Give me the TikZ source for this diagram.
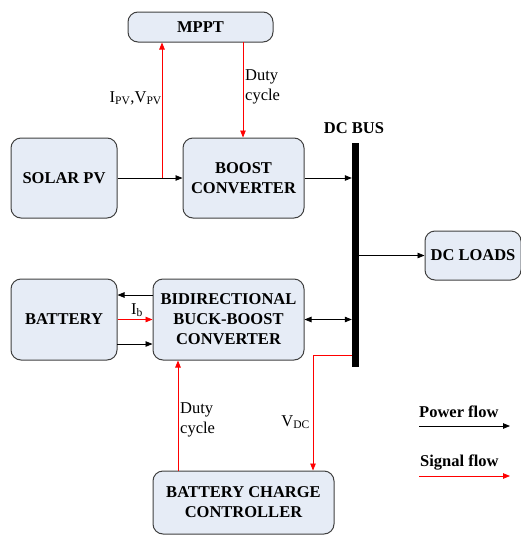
\documentclass[tikz,border=0pt]{standalone}
\usepackage{fontspec}
\setmainfont{LiberationSerif}[Extension=.ttf,UprightFont=*-Regular,BoldFont=*-Bold,ItalicFont=*-Italic,BoldItalicFont=*-BoldItalic]
\usetikzlibrary{arrows.meta}
\definecolor{boxfill}{HTML}{E6ECF6}
\definecolor{boxline}{HTML}{404040}
\definecolor{sigred}{HTML}{FF0000}
\begin{document}
\begin{tikzpicture}[x=1pt,y=-1pt,
  blk/.style={draw=boxline,line width=1pt,fill=boxfill,rounded corners=10pt,
     inner sep=0pt,align=center,font=\fontsize{16.5}{20}\selectfont\bfseries},
  pw/.style={draw=black,line width=0.8pt,-{Triangle[length=7pt,width=5.5pt]}},
  pwb/.style={draw=black,line width=0.8pt,{Triangle[length=7pt,width=5.5pt]}-{Triangle[length=7pt,width=5.5pt]}},
  sig/.style={draw=sigred,line width=0.8pt,-{Triangle[length=7pt,width=5.5pt]}},
  sigl/.style={draw=sigred,line width=0.8pt},
  lbl/.style={font=\fontsize{16.5}{20}\selectfont,inner sep=0pt,align=left},
  blbl/.style={font=\fontsize{16.5}{18}\selectfont\bfseries,inner sep=0pt}]
\useasboundingbox (0,0) rectangle (521,536);
% blocks
\node[blk,minimum width=145pt,minimum height=30pt] (mppt) at (200.5,27) {MPPT};
\node[blk,minimum width=106pt,minimum height=80pt] (solar) at (64,178) {SOLAR PV};
\node[blk,minimum width=121pt,minimum height=80pt] (boost) at (243.5,178) {BOOST\\CONVERTER};
\node[fill=black,inner sep=0pt,minimum width=7pt,minimum height=224pt] (bus) at (355.5,255) {};
\node[blk,minimum width=96pt,minimum height=49pt] (loads) at (473,255.5) {DC LOADS};
\node[blk,minimum width=106pt,minimum height=81pt] (batt) at (64,319.5) {BATTERY};
\node[blk,minimum width=151pt,minimum height=81pt] (bidir) at (228.5,319.5) {BIDIRECTIONAL\\BUCK-BOOST\\CONVERTER};
\node[blk,minimum width=181pt,minimum height=63pt] (ctrl) at (243.5,502.5) {BATTERY CHARGE\\CONTROLLER};
\node[blbl] (buslbl) at (354,128) {DC BUS};
% power flows
\draw[pw] (solar.east) -- (boost.west);
\draw[pw] (boost.east) -- (boost.east -| bus.west);
\draw[pw] (bus.east |- loads.west) -- (loads.west);
\coordinate (b1) at (153,295);
\coordinate (b3) at (117,344);
\draw[pw] (b1) -- (b1 -| batt.east);
\draw[pw] (b3) -- (b3 -| bidir.west);
\draw[pwb] (bidir.east) -- (bidir.east -| bus.west);
% signal flows
\coordinate (j1) at (162,178);
\draw[sig] (j1) -- (j1 |- mppt.south);
\coordinate (d1) at (243,42);
\draw[sig] (d1) -- (d1 |- boost.north);
\draw[sig] (batt.east) -- (bidir.west);
\coordinate (c1) at (178,471);
\draw[sig] (c1) -- (c1 |- bidir.south);
\coordinate (v0) at (313,355);
\draw[sigl] (v0 -| bus.west) -- (v0);
\draw[sig] (v0) -- (v0 |- ctrl.north);
% labels
\node[lbl,anchor=east] (ipv) at (162,98) {I\textsubscript{PV},V\textsubscript{PV}};
\node[lbl,anchor=west] (duty1) at (245,87) {Duty\\cycle};
\node[lbl,anchor=west] (ib) at (131,310) {I\textsubscript{b}};
\node[lbl,anchor=west] (duty2) at (180,420) {Duty\\cycle};
\node[lbl,anchor=east] (vdc) at (310,422) {V\textsubscript{DC}};
% legend
\node[blbl,anchor=west] (pf) at (419,412) {Power flow};
\coordinate (pfa) at (419,426);
\coordinate (pfb) at (510,426);
\draw[pw] (pfa) -- (pfb);
\node[blbl,anchor=west] (sf) at (420,463) {Signal flow};
\coordinate (sfa) at (419,476);
\coordinate (sfb) at (510,476);
\draw[sig] (sfa) -- (sfb);
\end{tikzpicture}
\end{document}
